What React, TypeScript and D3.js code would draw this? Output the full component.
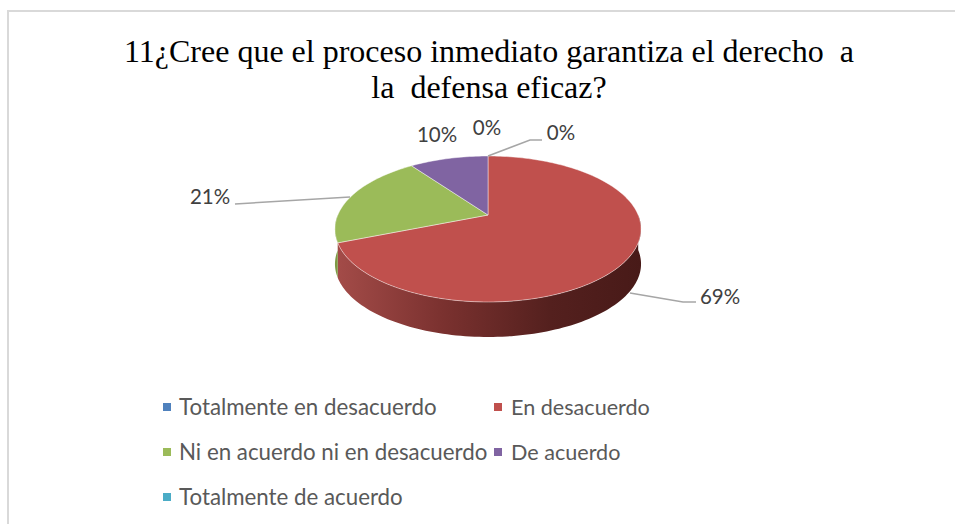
import React from "react";
import * as d3 from "d3";

const titleLines = ["11¿Cree que el proceso inmediato garantiza el derecho  a", "la  defensa eficaz?"];
const categories = ["Totalmente en desacuerdo", "En desacuerdo", "Ni en acuerdo ni en desacuerdo", "De acuerdo", "Totalmente de acuerdo"];
const values = [0, 69, 21, 10, 0];
const colors = ["#4f81bd", "#c0504d", "#9bbb59", "#8064a2", "#4bacc6"];
const wallColors = ["#3a6090", "#8f3c3a", "#7d9a45", "#5f4a7a", "#35839a"];
const percentLabels = ["0%", "69%", "21%", "10%", "0%"];

const cx = 488, cy = 215, depth = 35;
const c = 150.2, a = -70.3, b = 0.1918;
const project = (t: number): [number, number] => {
  const u = Math.sin(t), v = Math.cos(t), w = 1 + b * v;
  return [cx + (c * u) / w, cy + (a * v) / w];
};
const rim = (t0: number, t1: number) => {
  const n = Math.max(2, Math.ceil(Math.abs(t1 - t0) * 40));
  return d3.range(n + 1).map((i) => project(t0 + ((t1 - t0) * i) / n));
};
const line = d3.line();

export default function App() {
  const arcs = d3.pie<number>().sort(null)(values);
  const W = 955, H = 524;
  const front0 = Math.PI / 2, front1 = (3 * Math.PI) / 2;
  return (
    <svg width={W} height={H} style={{ position: "absolute", left: 0, top: 0, background: "#fff" }}>
      <defs>
        <linearGradient id="wall" gradientUnits="userSpaceOnUse" x1={338} x2={641} y1={0} y2={0}>
          <stop offset="0" stopColor="#a34b48" />
          <stop offset="0.35" stopColor="#7a312f" />
          <stop offset="0.7" stopColor="#54201e" />
          <stop offset="1" stopColor="#481a18" />
        </linearGradient>
      </defs>
      <path d="M8,524V11H955" fill="none" stroke="#d9d9d9" strokeWidth={2} />
      <g fontFamily="'Liberation Serif'" fontSize={32} fill="#000" textAnchor="middle">
        <text x={489} y={62} xmlSpace="preserve">{titleLines[0]}</text>
        <text x={489} y={98} xmlSpace="preserve">{titleLines[1]}</text>
      </g>
      {arcs.map((d, i) => {
        const s = Math.max(d.startAngle, front0), e = Math.min(d.endAngle, front1);
        if (e <= s) return null;
        const top = rim(s, e);
        const bottom = top.map(([x, y]) => [x, y + depth] as [number, number]).reverse();
        return <path key={i} d={(line([...top, ...bottom]) ?? "") + "Z"} fill={i === 1 ? "url(#wall)" : wallColors[i]} />;
      })}
      {arcs.map((d, i) => {
        if (d.endAngle <= d.startAngle) return null;
        const pts: [number, number][] = [[cx, cy], ...rim(d.startAngle, d.endAngle)];
        return <path key={i} d={(line(pts) ?? "") + "Z"} fill={colors[i]} stroke="#fff" strokeOpacity={0.55} strokeWidth={0.8} strokeLinejoin="round" />;
      })}
      <g fill="none" stroke="#a6a6a6" strokeWidth={1.5}>
        <path d="M488,156L530,140H542" />
        <path d="M235,204L350,197" />
        <path d="M630,293L683,302H696" />
      </g>
      <g fontFamily="Lato" fontSize={20.5} fill="#404040" textAnchor="middle">
        <text x={561} y={140}>{percentLabels[4]}</text>
        <text x={720} y={304}>{percentLabels[1]}</text>
        <text x={210} y={204}>{percentLabels[2]}</text>
        <text x={437} y={142}>{percentLabels[3]}</text>
        <text x={487} y={135}>{percentLabels[0]}</text>
      </g>
      <g fontFamily="Lato" fill="#595959">
        {categories.map((name, i) => {
          const col = i % 2, row = Math.floor(i / 2);
          const x = col === 0 ? 163 : 494;
          const y = 407 + row * 45;
          return (
            <g key={name}>
              <rect x={x} y={y - 4} width={8} height={8} fill={colors[i]} />
              <text x={col === 0 ? x + 16 : x + 17} y={y + 8} fontSize={col === 0 ? 22.3 : 21.6}>{name}</text>
            </g>
          );
        })}
      </g>
    </svg>
  );
}
